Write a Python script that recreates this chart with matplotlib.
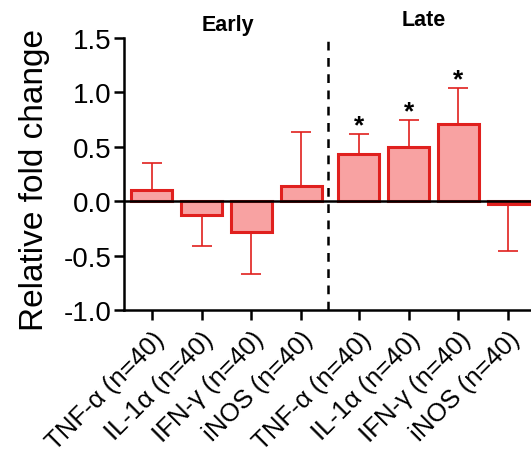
import matplotlib
matplotlib.use("Agg")
import matplotlib.pyplot as plt
from matplotlib import rcParams

rcParams['font.family'] = ['Liberation Sans', 'DejaVu Sans']

labels = ["TNF-\u03b1 (n=40)", "IL-1\u03b1 (n=40)", "IFN-\u03b3 (n=40)", "iNOS (n=40)",
          "TNF-\u03b1 (n=40)", "IL-1\u03b1 (n=40)", "IFN-\u03b3 (n=40)", "iNOS (n=40)"]
means = [0.10, -0.13, -0.28, 0.14, 0.43, 0.50, 0.71, -0.03]
errors = [0.25, 0.28, 0.39, 0.50, 0.19, 0.245, 0.33, 0.43]
significant = [False, False, False, False, True, True, True, False]
positions = [0, 1, 2, 3, 4.16, 5.16, 6.16, 7.16]

fill = '#F8A2A2'
edge = '#E0201E'

fig = plt.figure(figsize=(5.31, 4.56), dpi=100)
ax = fig.add_axes([0.2335, 0.318, 0.7665, 0.5965])

ax.bar(positions, means, width=0.82, color=fill, edgecolor=edge, linewidth=2.2, zorder=2)

# one-sided error bars in the direction of the bar
for x, m, e in zip(positions, means, errors):
    if m >= 0:
        ax.errorbar(x, m, yerr=[[0], [e]], fmt='none', ecolor=edge, elinewidth=1.2,
                    capsize=7, capthick=1.2, zorder=1)
    else:
        ax.errorbar(x, m, yerr=[[e], [0]], fmt='none', ecolor=edge, elinewidth=1.2,
                    capsize=7, capthick=1.2, zorder=1)

for x, m, e, s in zip(positions, means, errors, significant):
    if s:
        ax.text(x, m + e - 0.03, '*', ha='center', va='bottom', fontsize=19, fontweight='bold')

ax.axhline(0, color='black', linewidth=1.8, zorder=3)
ax.axvline(3.54, color='black', linestyle=(0, (3.5, 3)), linewidth=1.8, ymax=0.99)

ax.set_xlim(-0.56, 7.62)
ax.set_ylim(-1.0, 1.5)
ax.set_yticks([-1.0, -0.5, 0.0, 0.5, 1.0, 1.5])
ax.set_yticklabels(['-1.0', '-0.5', '0.0', '0.5', '1.0', '1.5'])
ax.set_xticks(positions)
ax.set_xticklabels(labels, rotation=45, ha='right', rotation_mode='anchor', fontsize=18.5)
ax.tick_params(axis='y', labelsize=20, width=1.8, length=7, direction='out', pad=2)
ax.tick_params(axis='x', width=1.8, length=7, direction='out', pad=5)

ax.spines['top'].set_visible(False)
ax.spines['right'].set_visible(False)
ax.spines['left'].set_linewidth(1.8)
ax.spines['bottom'].set_linewidth(1.8)

ax.set_ylabel('Relative fold change', fontsize=24, va='center')
ax.yaxis.set_label_coords(-0.22, 0.48)

fig.text(228 / 531, 1 - 25 / 456, 'Early', ha='center', va='center', fontsize=15.5, fontweight='bold')
fig.text(424 / 531, 1 - 21 / 456, 'Late', ha='center', va='center', fontsize=15.5, fontweight='bold')

fig.savefig('out.png', dpi=100)
